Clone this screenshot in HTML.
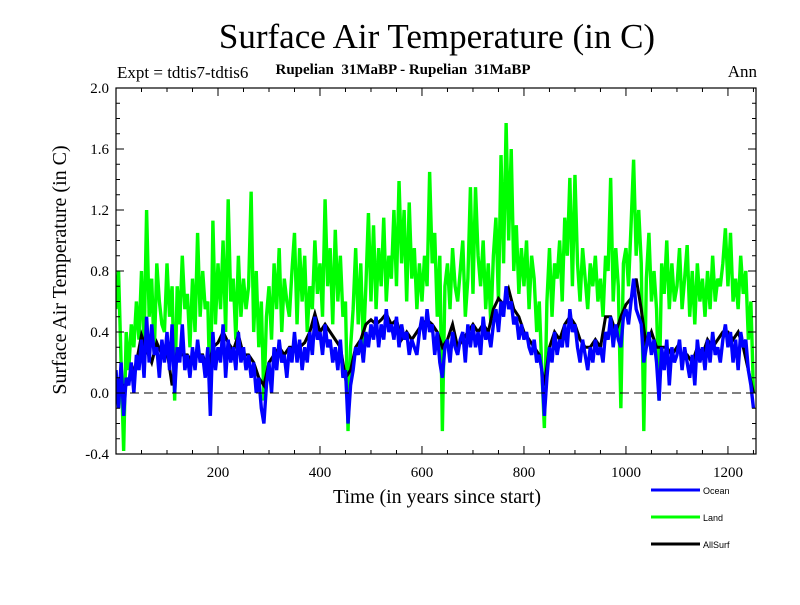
<!DOCTYPE html>
<html><head><meta charset="utf-8">
<style>
html,body{margin:0;padding:0;background:#fff;}
svg text{font-family:"Liberation Serif",serif;}
</style></head>
<body>
<svg id="chart" width="800" height="600" viewBox="0 0 800 600">
<text x="437" y="48" font-size="35" text-anchor="middle">Surface Air Temperature (in C)</text>
<text x="117" y="78" font-size="17">Expt = tdtis7-tdtis6</text>
<text x="403" y="74" font-size="15" font-weight="bold" text-anchor="middle" style="white-space:pre">Rupelian  31MaBP - Rupelian  31MaBP</text>
<text x="757" y="77" font-size="17" text-anchor="end">Ann</text>
<text x="437" y="503" font-size="20" text-anchor="middle">Time (in years since start)</text>
<text transform="translate(66,270) rotate(-90)" font-size="20" text-anchor="middle">Surface Air Temperature (in C)</text>
<g id="plot"></g>
<g id="legend"></g>
</svg>
<script>
const years5Step = 5;
const landValues = [
0.55,0.8,0.2,-0.38,0.4,0.15,0.45,0.3,0.6,0.35,
0.8,0.3,1.2,0.5,0.75,0.25,0.85,0.6,0.45,0.4,
0.85,0.5,0.7,-0.05,0.7,0.45,0.9,0.55,0.65,0.3,
0.75,0.4,1.05,0.5,0.8,0.55,0.6,-0.12,1.13,0.45,
0.85,0.55,1.0,0.4,1.27,0.6,0.75,0.35,0.9,0.5,
0.75,0.55,0.7,1.32,0.4,0.8,0.3,0.6,-0.05,0.5,
0.7,0.35,0.85,0.55,0.95,0.4,0.75,0.6,0.5,0.8,
1.05,0.45,0.95,0.6,0.9,0.4,0.7,0.55,1.0,0.65,
0.85,0.5,1.27,0.7,0.95,0.45,1.07,0.6,0.9,0.5,
0.6,-0.25,0.3,0.55,0.95,0.45,0.85,0.3,0.7,1.18,
0.6,1.1,0.55,0.95,0.7,1.15,0.6,0.9,0.75,1.2,
0.7,1.39,0.85,1.2,0.6,1.25,0.75,0.95,0.55,0.85,
0.6,0.9,0.7,1.45,0.85,1.05,0.5,0.9,-0.25,0.7,
0.85,0.55,0.95,0.7,0.6,0.8,1.0,0.5,0.75,1.35,
0.65,1.35,0.9,0.7,1.0,0.55,0.85,0.45,0.9,1.15,
0.6,1.56,0.85,1.77,1.0,1.6,0.8,1.1,0.65,0.95,
0.7,1.0,0.55,0.9,0.75,0.4,0.6,0.15,-0.23,0.6,
0.95,0.5,0.85,0.75,1.0,0.6,1.15,0.9,1.41,0.7,
1.43,0.85,0.6,0.95,0.75,0.55,0.85,0.7,0.9,0.6,
0.75,0.5,0.9,0.8,1.41,0.6,0.95,0.7,-0.1,0.85,
0.95,0.7,1.1,1.53,0.9,1.2,0.85,-0.25,0.75,1.05,
0.6,0.8,0.55,-0.05,0.85,0.65,1.0,0.55,0.85,0.6,
0.7,0.95,0.55,0.75,0.97,0.5,0.8,0.45,0.85,0.6,
0.75,0.5,0.8,0.55,0.9,0.6,0.75,0.7,0.85,1.08,
0.7,1.05,0.6,0.75,0.55,0.9,0.65,0.8,0.35,0.6,
0.0];
const oceanValues = [
0.15,-0.1,0.2,-0.15,0.1,0.05,0.2,0.0,0.25,0.15,
0.35,0.1,0.5,0.2,0.45,0.25,0.3,0.1,0.35,0.2,
0.4,0.15,0.45,0.0,0.3,0.2,0.45,0.15,0.25,0.1,
0.3,0.15,0.35,0.2,0.25,0.1,0.3,-0.15,0.4,0.15,
0.3,0.2,0.45,0.1,0.35,0.2,0.3,0.15,0.4,0.2,
0.3,0.15,0.25,0.1,0.2,0.0,0.1,-0.1,-0.2,0.05,
0.2,0.0,0.3,0.15,0.35,0.2,0.25,0.1,0.3,0.2,
0.4,0.2,0.35,0.15,0.3,0.2,0.4,0.25,0.5,0.35,
0.4,0.25,0.45,0.3,0.35,0.2,0.3,0.15,0.35,0.1,
0.15,-0.2,0.05,0.15,0.3,0.25,0.35,0.2,0.4,0.3,
0.45,0.35,0.5,0.3,0.45,0.35,0.55,0.4,0.45,0.35,
0.5,0.3,0.45,0.35,0.4,0.25,0.35,0.3,0.25,0.4,
0.5,0.35,0.55,0.4,0.45,0.25,0.4,0.2,0.1,0.3,
0.35,0.2,0.4,0.3,0.25,0.35,0.4,0.2,0.45,0.3,
0.45,0.3,0.4,0.25,0.5,0.35,0.4,0.3,0.45,0.55,
0.4,0.6,0.5,0.7,0.55,0.6,0.45,0.5,0.35,0.45,
0.35,0.4,0.3,0.25,0.35,0.2,0.25,0.15,-0.15,0.1,
0.3,0.2,0.4,0.25,0.35,0.3,0.45,0.3,0.55,0.4,
0.45,0.3,0.2,0.35,0.25,0.15,0.3,0.2,0.35,0.25,
0.3,0.2,0.4,0.35,0.5,0.3,0.45,0.35,0.3,0.5,
0.55,0.45,0.6,0.75,0.55,0.5,0.45,0.2,0.3,0.4,
0.25,0.35,0.2,-0.05,0.3,0.15,0.35,0.05,0.3,0.2,
0.25,0.35,0.15,0.3,0.2,0.1,0.25,0.05,0.35,0.2,
0.3,0.15,0.35,0.2,0.4,0.25,0.3,0.2,0.35,0.45,
0.3,0.4,0.2,0.35,0.15,0.4,0.3,0.35,0.15,0.05,
-0.1];
const years10Step = 10;
const allSurfValues = [
0.1,0.05,0.05,0.1,0.2,0.38,0.28,0.2,0.33,0.25,
0.28,0.05,0.28,0.25,0.25,0.2,0.25,0.25,0.15,0.3,
0.33,0.4,0.33,0.28,0.38,0.25,0.25,0.2,0.1,0.05,
0.2,0.25,0.3,0.25,0.3,0.3,0.3,0.33,0.4,0.52,
0.4,0.45,0.4,0.35,0.3,0.1,0.15,0.3,0.35,0.45,
0.48,0.45,0.48,0.52,0.45,0.48,0.35,0.4,0.35,0.4,
0.45,0.48,0.45,0.4,0.3,0.35,0.45,0.3,0.35,0.4,
0.45,0.4,0.45,0.4,0.55,0.62,0.58,0.68,0.55,0.5,
0.4,0.35,0.3,0.25,0.05,0.3,0.4,0.35,0.45,0.5,
0.45,0.35,0.3,0.3,0.35,0.3,0.5,0.5,0.4,0.5,
0.58,0.62,0.75,0.55,0.3,0.4,0.3,0.3,0.3,0.25,
0.3,0.25,0.25,0.2,0.3,0.25,0.35,0.3,0.35,0.4,
0.4,0.35,0.4,0.3,0.15,0.0];
const xTickValues = [200,400,600,800,1000,1200];
const yTickValues = [-0.4,0.0,0.4,0.8,1.2,1.6,2.0];
const yTickLabels = ["-0.4","0.0","0.4","0.8","1.2","1.6","2.0"];
const legendNames = ["Ocean","Land","AllSurf"];

const NS="http://www.w3.org/2000/svg";
const L=116,R=756,T=88,B=454,XMAX=1255,YMIN=-0.4,YMAX=2.0;
function xs(v){return L+(v/XMAX)*(R-L);}
function ys(v){return B-(v-YMIN)/(YMAX-YMIN)*(B-T);}
const plot=document.getElementById('plot');
function mk(tag,attrs,parent){const e=document.createElementNS(NS,tag);for(const k in attrs)e.setAttribute(k,attrs[k]);(parent||plot).appendChild(e);return e;}

const defs=mk('defs',{});
const cp=mk('clipPath',{id:'clip'},defs);
mk('rect',{x:L,y:T,width:R-L,height:B-T},cp);

function series(vals,step,color,name,w){
  let d='';
  vals.forEach((v,i)=>{d+=(i?'L':'M')+xs(i*step).toFixed(2)+','+ys(v).toFixed(2);});
  const p=mk('path',{d:d,fill:'none',stroke:color,'stroke-width':w,'stroke-linejoin':'miter','clip-path':'url(#clip)'});
  
  
}
series(landValues,years5Step,'#00ff00','land-series',3.4);
series(allSurfValues,years10Step,'#000000','allsurf-series',3);
series(oceanValues,years5Step,'#0000ff','ocean-series',3.4);

const zl=mk('line',{x1:L,x2:R,y1:ys(0),y2:ys(0),stroke:'#000','stroke-width':1,'stroke-dasharray':'9,5'});



const fr=mk('rect',{x:L,y:T,width:R-L,height:B-T,fill:'none',stroke:'#000','stroke-width':1.2});



for(let v=50;v<XMAX;v+=50){
  const major=v%200===0, len=major?8:4, x=xs(v);
  mk('line',{x1:x,x2:x,y1:B,y2:B-len,stroke:'#000','stroke-width':1});
  mk('line',{x1:x,x2:x,y1:T,y2:T+len,stroke:'#000','stroke-width':1});
}
xTickValues.forEach(v=>{
  const t=mk('text',{x:xs(v),y:B+23,'font-size':15,'text-anchor':'middle'});
  t.textContent=v;
  
  
});
for(let k=-4;k<=20;k++){
  const v=k/10, major=k%4===0, len=major?8:4, y=ys(v);
  mk('line',{x1:L,x2:L+len,y1:y,y2:y,stroke:'#000','stroke-width':1});
  mk('line',{x1:R,x2:R-len,y1:y,y2:y,stroke:'#000','stroke-width':1});
}
yTickValues.forEach((v,i)=>{
  const t=mk('text',{x:L-7,y:ys(v)+5,'font-size':15,'text-anchor':'end'});
  t.textContent=yTickLabels[i];
  
  
});

const lg=document.getElementById('legend');


const legColors=['#0000ff','#00ff00','#000000'];
legendNames.forEach((n,i)=>{
  const y=490+i*27;
  const g=mk('g',{},lg);
  
  
  mk('line',{x1:651,x2:700,y1:y,y2:y,stroke:legColors[i],'stroke-width':3},g);
  const t=mk('text',{x:703,y:y+4,'font-size':9},g);
  t.setAttribute('style','font-family:"Liberation Sans",sans-serif');
  t.textContent=n;
});
</script>
</body></html>
